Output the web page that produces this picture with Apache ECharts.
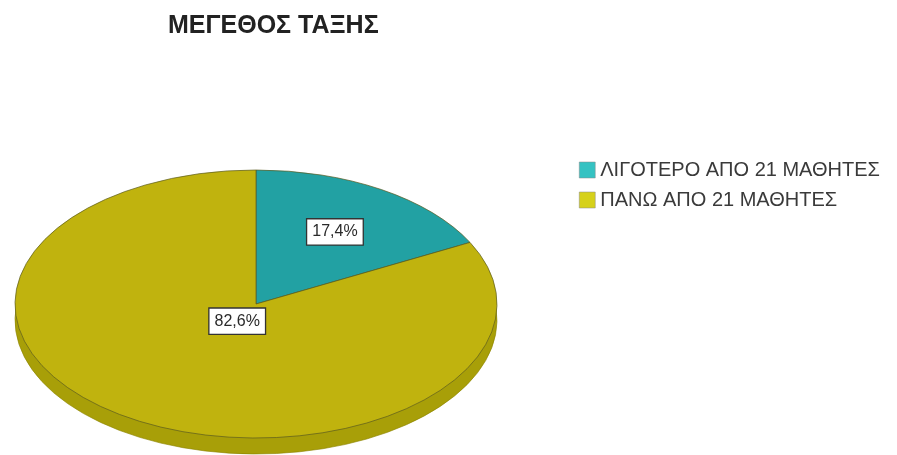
<!DOCTYPE html>
<html>
<head>
<meta charset="utf-8">
<script src="https://cdn.jsdelivr.net/npm/echarts@6/dist/echarts.min.js"></script>
<style>
  html, body { margin: 0; padding: 0; background: #fff; }
  #chart { width: 897px; height: 455px; }
</style>
</head>
<body>
<div id="chart"></div>
<script>
// Class size shares
const categories = ['ΛΙΓΟΤΕΡΟ ΑΠΟ 21 ΜΑΘΗΤΕΣ', 'ΠΑΝΩ ΑΠΟ 21 ΜΑΘΗΤΕΣ'];
const percentages = [17.4, 82.6];

// Styling
const topColors = ['#22a1a3', '#c0b30e'];
const sideColors = ['#1a8587', '#a89f08'];
const legendColors = ['#35c2c2', '#d6d11a'];
const PIE = { cx: 256, cy: 304, rx: 241, ry: 134, depth: 16 };
const labelRadius = [0.63, 0.15];

const total = percentages.reduce((a, b) => a + b, 0);

function fmt(v) {
  return v.toFixed(1).replace('.', ',') + '%';
}

function renderItem(params, api) {
  const i = params.dataIndex;
  const value = api.value(0);
  let before = 0;
  for (let j = 0; j < i; j++) before += percentages[j];
  const start = -Math.PI / 2 + (before / total) * Math.PI * 2;
  const end = start + (value / total) * Math.PI * 2;
  const k = PIE.ry / PIE.rx;
  const mid = (start + end) / 2;
  const lr = labelRadius[i];
  const lx = PIE.cx + Math.cos(mid) * PIE.rx * lr;
  const ly = PIE.cy + Math.sin(mid) * PIE.ry * lr;
  return {
    type: 'group',
    children: [
      {
        type: 'group',
        x: PIE.cx, y: PIE.cy + PIE.depth, scaleY: k,
        children: [{
          type: 'sector', z2: 1,
          shape: { cx: 0, cy: 0, r: PIE.rx, r0: 0, startAngle: start, endAngle: end, clockwise: true },
          style: { fill: sideColors[i], stroke: '#8a8300', lineWidth: 0.8 }
        }]
      },
      {
        type: 'group',
        x: PIE.cx, y: PIE.cy, scaleY: k,
        children: [{
          type: 'sector', z2: 5,
          shape: { cx: 0, cy: 0, r: PIE.rx, r0: 0, startAngle: start, endAngle: end, clockwise: true },
          style: { fill: topColors[i], stroke: '#5a5a20', lineWidth: 0.9 }
        }]
      },
      {
        type: 'text', z2: 10,
        x: lx, y: ly,
        style: {
          text: fmt(value),
          fill: '#2a2a2a',
          font: '16px "Liberation Sans", Arial, sans-serif',
          align: 'center',
          verticalAlign: 'middle',
          backgroundColor: '#fff',
          borderColor: '#333',
          borderWidth: 1.3,
          padding: [5, 5, 4, 5]
        }
      }
    ]
  };
}

const chart = echarts.init(document.getElementById('chart'), null, { renderer: 'canvas' });
chart.setOption({
  animation: false,
  title: {
    text: 'ΜΕΓΕΘΟΣ ΤΑΞΗΣ',
    left: 163, top: 9,
    textStyle: { fontSize: 25, fontWeight: 'bold', color: '#222', fontFamily: '"Liberation Sans", Arial, sans-serif' }
  },
  legend: {
    orient: 'vertical',
    left: 574, top: 155,
    itemWidth: 16, itemHeight: 16, itemGap: 10,
    icon: 'rect',
    selectedMode: false,
    textStyle: { fontSize: 20, color: '#3a3a3a', fontFamily: '"Liberation Sans", Arial, sans-serif' },
    data: categories.map((c, i) => ({ name: c, itemStyle: { color: legendColors[i], borderColor: '#888', borderWidth: 0.5 } }))
  },
  series: [
    {
      type: 'custom',
      name: 'ΜΕΓΕΘΟΣ ΤΑΞΗΣ',
      coordinateSystem: 'none',
      silent: true,
      renderItem: renderItem,
      data: percentages.map((v, i) => ({ name: categories[i], value: [v] }))
    },
    {
      // carries the category names for the legend
      type: 'pie',
      radius: [0, 0],
      center: [-50, -50],
      silent: true,
      label: { show: false },
      labelLine: { show: false },
      data: percentages.map((v, i) => ({ name: categories[i], value: v, itemStyle: { color: legendColors[i] } }))
    }
  ]
});
</script>
</body>
</html>
